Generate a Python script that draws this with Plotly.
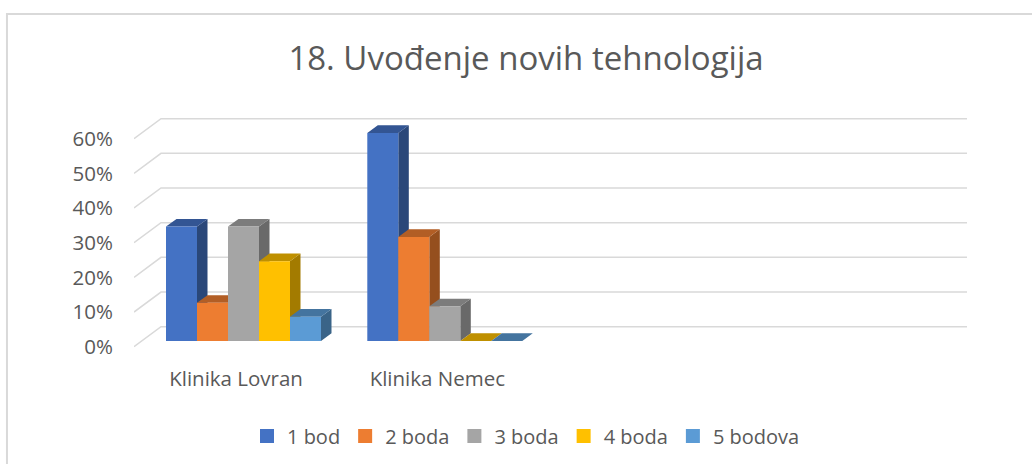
"""
plot.py - 3D-look clustered columns drawn as filled polygons on ordinary axes.
"""

import plotly.graph_objects as go

TITLE = "18. Uvođenje novih tehnologija"
CLINICS = ["Klinika Lovran", "Klinika Nemec"]
SERIES_NAMES = ["1 bod", "2 boda", "3 boda", "4 boda", "5 bodova"]

BOD_1 = [33, 60]
BOD_2 = [11, 30]
BOD_3 = [33, 10]
BOD_4 = [23, 0]
BOD_5 = [7, 0]
SERIES_VALUES = [BOD_1, BOD_2, BOD_3, BOD_4, BOD_5]

PCT_TICKS = [0, 10, 20, 30, 40, 50, 60]
PCT_LABELS = ["0%", "10%", "20%", "30%", "40%", "50%", "60%"]

FRONT_COLORS = ["#4472C4", "#ED7D31", "#A5A5A5", "#FFC000", "#5B9BD5"]
TOP_COLORS = ["#335593", "#B25E25", "#7C7C7C", "#BF9000", "#44749F"]
SIDE_COLORS = ["#2A4779", "#954F1E", "#696969", "#A37B00", "#3A6488"]

TEXT_COLOR = "#595959"
GRID_COLOR = "#D9D9D9"
FONT = "Open Sans"

# Pixel geometry of the plot area
WIDTH, HEIGHT = 1032, 464
LEFT, RIGHT, TOP, BOTTOM = 134, 967, 110, 350
X_ZERO, PX_PER_CAT = 243.5, 201.3   # centre of first cluster, cluster spacing
Y_ZERO, PX_PER_PCT = 341.0, 3.467   # front plane of the columns

BAR_W = 31 / PX_PER_CAT
DEPTH_X = 10.5 / PX_PER_CAT
DEPTH_Y = 7.7 / PX_PER_PCT
WALL_X = (161 - X_ZERO) / PX_PER_CAT
EDGE_X = (LEFT - X_ZERO) / PX_PER_CAT
END_X = (RIGHT - X_ZERO) / PX_PER_CAT
WALL_UP = 14.3 / PX_PER_PCT
EDGE_DOWN = 5.7 / PX_PER_PCT


def _polygons(faces):
    """Join closed polygons into one x/y pair, separated by None."""
    xs, ys = [], []
    for face in faces:
        xs += [p[0] for p in face] + [face[0][0], None]
        ys += [p[1] for p in face] + [face[0][1], None]
    return xs, ys


def _fill_trace(faces, color):
    xs, ys = _polygons(faces)
    return go.Scatter(x=xs, y=ys, mode="lines", fill="toself", fillcolor=color,
                      line=dict(width=0, color=color), hoverinfo="skip",
                      showlegend=False)


fig = go.Figure()

# Back wall gridlines with their slanted floor edge
for v in PCT_TICKS:
    fig.add_trace(go.Scatter(
        x=[EDGE_X, WALL_X, END_X],
        y=[v - EDGE_DOWN, v + WALL_UP, v + WALL_UP],
        mode="lines", line=dict(color=GRID_COLOR, width=1.5),
        hoverinfo="skip", showlegend=False,
    ))

# Columns, left to right so that later fronts cover earlier sides
for s, values in enumerate(SERIES_VALUES):
    fronts, tops, sides = [], [], []
    for c, v in enumerate(values):
        x0 = c + (s - 2.5) * BAR_W
        x1 = x0 + BAR_W
        fronts.append([(x0, 0), (x1, 0), (x1, v), (x0, v)])
        tops.append([(x0, v), (x1, v), (x1 + DEPTH_X, v + DEPTH_Y), (x0 + DEPTH_X, v + DEPTH_Y)])
        sides.append([(x1, 0), (x1 + DEPTH_X, DEPTH_Y), (x1 + DEPTH_X, v + DEPTH_Y), (x1, v)])
    fig.add_trace(_fill_trace(sides, SIDE_COLORS[s]))
    fig.add_trace(_fill_trace(tops, TOP_COLORS[s]))
    fig.add_trace(_fill_trace(fronts, FRONT_COLORS[s]))

# Legend entries only
for s, name in enumerate(SERIES_NAMES):
    fig.add_trace(go.Scatter(
        x=[None], y=[None], mode="markers", name=name,
        marker=dict(symbol="square", size=14, color=FRONT_COLORS[s]),
    ))

fig.update_layout(
    width=WIDTH, height=HEIGHT,
    margin=dict(l=LEFT, r=WIDTH - RIGHT, t=TOP, b=HEIGHT - BOTTOM),
    paper_bgcolor="white", plot_bgcolor="white",
    font=dict(family=FONT, color=TEXT_COLOR, size=18),
    title=dict(text=TITLE, x=526 / WIDTH, xanchor="center", y=1 - 58 / HEIGHT,
               yanchor="middle", font=dict(size=33, color=TEXT_COLOR)),
    xaxis=dict(
        range=[(LEFT - X_ZERO) / PX_PER_CAT, (RIGHT - X_ZERO) / PX_PER_CAT],
        tickmode="array", tickvals=[-0.037, 0.963], ticktext=CLINICS,
        tickfont=dict(size=20.5), ticklabelstandoff=14, automargin=False,
        showgrid=False, zeroline=False, showline=False, ticks="",
    ),
    yaxis=dict(
        range=[(Y_ZERO - BOTTOM) / PX_PER_PCT, (Y_ZERO - TOP) / PX_PER_PCT],
        tickmode="array", tickvals=[v - EDGE_DOWN for v in PCT_TICKS], ticktext=PCT_LABELS,
        tickfont=dict(size=20.5), ticklabelstandoff=20, automargin=False,
        showgrid=False, zeroline=False, showline=False, ticks="",
    ),
    legend=dict(
        orientation="h", xanchor="left", yanchor="middle",
        xref="container", yref="container",
        x=247 / WIDTH, y=1 - 436 / HEIGHT,
        font=dict(size=20, color=TEXT_COLOR), bgcolor="rgba(0,0,0,0)",
    ),
    shapes=[dict(
        type="path", xref="paper", yref="paper",
        path="M {:.4f} {:.4f} L {:.4f} {:.4f} L {:.4f} {:.4f}".format(
            (7 - LEFT) / (RIGHT - LEFT), (BOTTOM - HEIGHT) / (BOTTOM - TOP),
            (7 - LEFT) / (RIGHT - LEFT), (BOTTOM - 14) / (BOTTOM - TOP),
            (WIDTH - LEFT) / (RIGHT - LEFT), (BOTTOM - 14) / (BOTTOM - TOP),
        ),
        line=dict(color=GRID_COLOR, width=2),
    )],
)

# Drop the page's default body margin so the figure sits at the window corner
fig.write_html("out.html", config=dict(displayModeBar=False),
               post_script="document.body.style.margin = '0';")
